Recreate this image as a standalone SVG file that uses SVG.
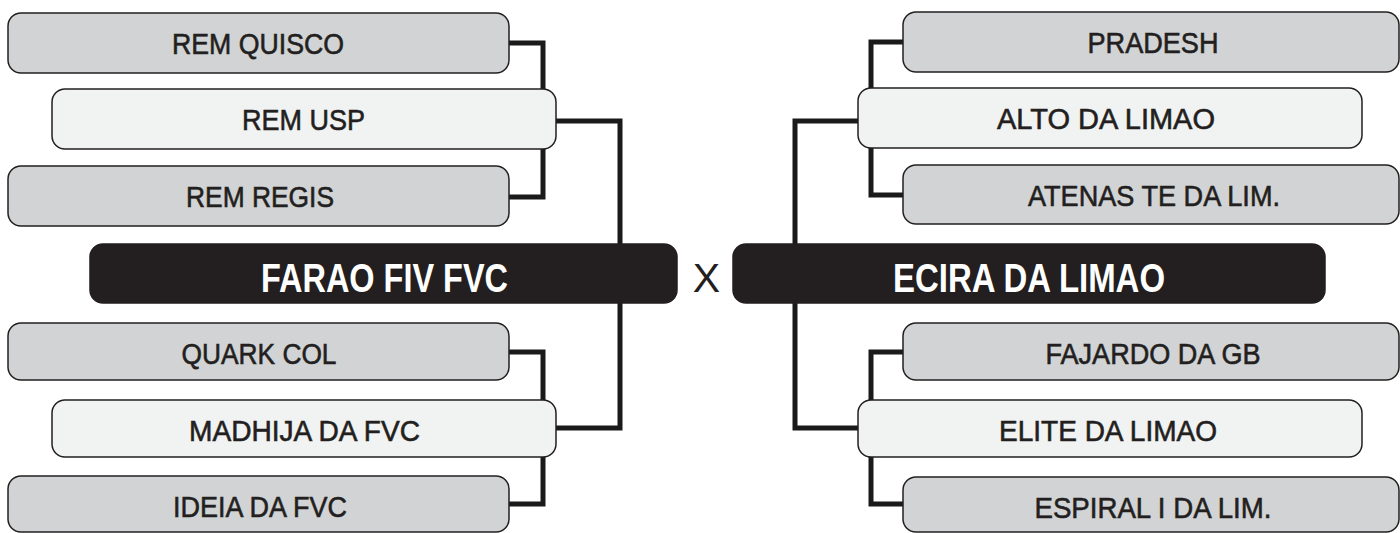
<svg xmlns="http://www.w3.org/2000/svg" width="1400" height="533" viewBox="0 0 1400 533">
<style>
.box{stroke:#231f20;stroke-width:1.5}
.grey{fill:#d1d3d4}
.light{fill:#f1f2f2}
.dark{fill:#231f20}
.t{font-family:"Liberation Sans",Arial,sans-serif;font-size:30px;fill:#231f20;stroke:#231f20;stroke-width:0.6px;text-anchor:middle}
.tb{font-family:"Liberation Sans",Arial,sans-serif;font-size:40px;font-weight:bold;fill:#ffffff;text-anchor:middle}
.x{font-family:"Liberation Sans",Arial,sans-serif;font-size:41px;fill:#231f20;text-anchor:middle}
.c{fill:none;stroke:#1a1a1a;stroke-width:5;stroke-linejoin:miter}
</style>
<rect width="1400" height="533" fill="#ffffff"/>
<g id="connectors">
<path class="c" d="M509,43 H543 V197 H509"/>
<path class="c" d="M556,121 H620 V428 H556"/>
<path class="c" d="M509,352 H543 V504 H509"/>
<path class="c" d="M903,42 H871 V195 H903"/>
<path class="c" d="M858,121 H795 V428 H858"/>
<path class="c" d="M903,352 H871 V504 H903"/>
</g>
<g id="rem-quisco"><rect class="box grey" x="8" y="13" width="501" height="60" rx="13"/><text class="t" x="258" y="54" textLength="172" lengthAdjust="spacingAndGlyphs">REM QUISCO</text></g>
<g id="rem-usp"><rect class="box light" x="52" y="89" width="504" height="60" rx="13"/><text class="t" x="303.5" y="130" textLength="123" lengthAdjust="spacingAndGlyphs">REM USP</text></g>
<g id="rem-regis"><rect class="box grey" x="8" y="166" width="501" height="60" rx="13"/><text class="t" x="260" y="207" textLength="148" lengthAdjust="spacingAndGlyphs">REM REGIS</text></g>
<g id="farao"><rect class="box dark" x="90" y="244" width="587" height="59" rx="13"/><text class="tb" x="384.5" y="292" textLength="247" lengthAdjust="spacingAndGlyphs">FARAO FIV FVC</text></g>
<g id="quark-col"><rect class="box grey" x="8" y="323" width="501" height="57" rx="13"/><text class="t" x="259" y="364" textLength="155" lengthAdjust="spacingAndGlyphs">QUARK COL</text></g>
<g id="madhija"><rect class="box light" x="52" y="400" width="504" height="57" rx="13"/><text class="t" x="304.5" y="441" textLength="231" lengthAdjust="spacingAndGlyphs">MADHIJA DA FVC</text></g>
<g id="ideia"><rect class="box grey" x="8" y="476" width="501" height="56" rx="13"/><text class="t" x="260" y="517" textLength="174" lengthAdjust="spacingAndGlyphs">IDEIA DA FVC</text></g>
<g id="versus"><text class="x" x="706.5" y="292">X</text></g>
<g id="pradesh"><rect class="box grey" x="903" y="12" width="496" height="60" rx="13"/><text class="t" x="1153" y="53" textLength="131" lengthAdjust="spacingAndGlyphs">PRADESH</text></g>
<g id="alto"><rect class="box light" x="858" y="88" width="504" height="60" rx="13"/><text class="t" x="1106" y="129" textLength="218" lengthAdjust="spacingAndGlyphs">ALTO DA LIMAO</text></g>
<g id="atenas"><rect class="box grey" x="903" y="165" width="496" height="59" rx="13"/><text class="t" x="1154" y="206" textLength="252" lengthAdjust="spacingAndGlyphs">ATENAS TE DA LIM.</text></g>
<g id="ecira"><rect class="box dark" x="733" y="244" width="592" height="59" rx="13"/><text class="tb" x="1029" y="292" textLength="272" lengthAdjust="spacingAndGlyphs">ECIRA DA LIMAO</text></g>
<g id="fajardo"><rect class="box grey" x="903" y="323" width="496" height="57" rx="13"/><text class="t" x="1153" y="364" textLength="215" lengthAdjust="spacingAndGlyphs">FAJARDO DA GB</text></g>
<g id="elite"><rect class="box light" x="858" y="400" width="504" height="57" rx="13"/><text class="t" x="1108" y="441" textLength="218" lengthAdjust="spacingAndGlyphs">ELITE DA LIMAO</text></g>
<g id="espiral"><rect class="box grey" x="903" y="477" width="496" height="55" rx="13"/><text class="t" x="1153" y="518" textLength="237" lengthAdjust="spacingAndGlyphs">ESPIRAL I DA LIM.</text></g>
</svg>
